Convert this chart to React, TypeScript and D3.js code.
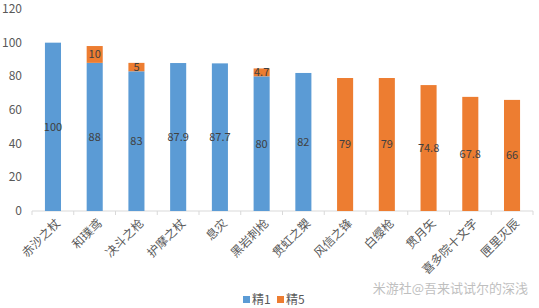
import React from "react";
import * as d3 from "d3";

const categories = ["赤沙之杖", "和璞鸢", "决斗之枪", "护摩之杖", "息灾", "黑岩刺枪", "贯虹之槊", "风信之锋", "白缨枪", "贯月矢", "喜多院十文字", "匣里灭辰"];
const series1 = [100, 88, 83, 87.9, 87.7, 80, 82, 0, 0, 0, 0, 0];
const series5 = [0, 10, 5, 0, 0, 4.7, 0, 79, 79, 74.8, 67.8, 66];
const seriesNames = ["精1", "精5"];
const yTicks = [0, 20, 40, 60, 80, 100, 120];
const colors = ["#5B9BD5", "#ED7D31"];

const W = 539, H = 308;
const font = "'Noto Sans CJK SC', 'Microsoft YaHei', sans-serif";

export default function App() {
  const x = d3.scaleBand<string>().domain(categories).range([32, 533]).paddingInner(0.615).paddingOuter(0.31);
  const xb = d3.scaleBand<string>().domain(categories).range([32, 533]);
  const y = d3.scaleLinear().domain([0, 120]).range([211, 9]);
  const bw = x.bandwidth();
  return (
    <svg width={W} height={H} style={{ position: "absolute", left: 0, top: 0, background: "#fff" }} fontFamily={font}>
      <rect width={W} height={H} fill="#fff" />
      {yTicks.map((t) => (
        <text key={t} x={22} y={y(t) + 4} textAnchor="end" fontSize={12} fill="#595959">{t}</text>
      ))}
      <line x1={32} x2={533} y1={y(0)} y2={y(0)} stroke="#D9D9D9" />
      {categories.concat([""]).map((c, i) => {
        const xx = i < categories.length ? xb(c)! : 533;
        return <line key={"t" + i} x1={xx} x2={xx} y1={y(0)} y2={y(0) + 4} stroke="#D9D9D9" />;
      })}
      {categories.map((c, i) => {
        const x0 = x(c)!;
        const v1 = series1[i], v5 = series5[i];
        return (
          <g key={c}>
            {v1 > 0 && <rect x={x0} width={bw} y={y(v1)} height={y(0) - y(v1)} fill={colors[0]} />}
            {v5 > 0 && <rect x={x0} width={bw} y={y(v1 + v5)} height={y(v1) - y(v1 + v5)} fill={colors[1]} />}
            {v1 > 0 && <text x={x0 + bw / 2} y={(y(0) + y(v1)) / 2} dy="0.35em" textAnchor="middle" fontSize={11} fill="#404040">{v1}</text>}
            {v5 > 0 && <text x={x0 + bw / 2} y={(y(v1) + y(v1 + v5)) / 2} dy="0.35em" textAnchor="middle" fontSize={11} fill="#404040">{v5}</text>}
            <text transform={`translate(${x0 + bw / 2 + 5},${y(0) + 10}) rotate(-45)`} textAnchor="end" dy="0.35em" fontSize={12} fill="#595959">{c}</text>
          </g>
        );
      })}
      {seriesNames.map((s, i) => (
        <g key={s} transform={`translate(${243 + i * 34},300)`}>
          <rect x={0} y={-4} width={7} height={7} fill={colors[i]} />
          <text x={9} y={0} dy="0.35em" fontSize={12} fill="#595959">{s}</text>
        </g>
      ))}
      <text x={528} y={293} textAnchor="end" fontSize={13} fill="#BFBFBF">米游社@吾来试试尔的深浅</text>
    </svg>
  );
}
